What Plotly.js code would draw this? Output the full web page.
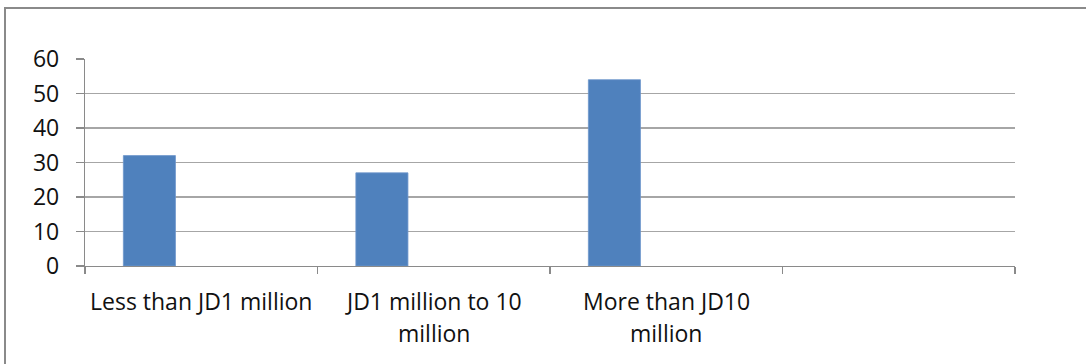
<!DOCTYPE html>
<html>
<head>
<meta charset="utf-8">
<script src="https://cdn.plot.ly/plotly-3.0.1.min.js"></script>
<style>
  html, body { margin: 0; padding: 0; width: 1086px; height: 364px; overflow: hidden; background: #fff; }
  #frame { position: absolute; left: 4px; top: 7px; width: 1100px; height: 400px; border: 2px solid #8a8a8a; box-sizing: border-box; }
  #chart { position: absolute; left: 0; top: 0; width: 1086px; height: 364px; }
</style>
</head>
<body>
<div id="frame"></div>
<div id="chart"></div>
<script>
// Categories (4th slot is empty in the original chart)
const categories = ["Less than JD1 million", "JD1 million to 10 million", "More than JD10 million", ""];
const values = [32, 27, 54, null];
// Wrapped label lines as shown on the chart
const labelLines = [
  ["Less than JD1 million"],
  ["JD1 million to 10", "million"],
  ["More than JD10", "million"]
];
const yTicks = [0, 10, 20, 30, 40, 50, 60];

const FONT = "'Open Sans', Lato, sans-serif";
const GRAY = "#8a8a8a";

const annotations = [];
labelLines.forEach((lines, i) => {
  lines.forEach((line, j) => {
    annotations.push({
      x: categories[i], xref: "x",
      y: 0, yref: "paper",
      yanchor: "middle", xanchor: "center",
      yshift: -35 - j * 32,
      text: line, showarrow: false,
      font: { family: FONT, size: 23, color: "#111" }
    });
  });
});

const trace = {
  type: "bar",
  x: categories,
  y: values,
  width: 0.224,
  offset: -0.335,
  marker: { color: "#4F81BD", line: { color: "#6f97cc", width: 0.8 } },
  hoverinfo: "x+y"
};

const layout = {
  width: 1086, height: 364,
  margin: { l: 85, r: 71, t: 59, b: 98 },
  paper_bgcolor: "rgba(0,0,0,0)",
  plot_bgcolor: "rgba(0,0,0,0)",
  showlegend: false,
  xaxis: {
    type: "category",
    categoryorder: "array",
    categoryarray: categories,
    range: [-0.5, 3.5],
    showticklabels: false,
    tickson: "boundaries",
    ticks: "outside", ticklen: 7, tickcolor: GRAY, tickwidth: 1.2,
    showline: true, linecolor: GRAY, linewidth: 1.2,
    showgrid: false, zeroline: false
  },
  yaxis: {
    range: [0, 60],
    tickvals: yTicks,
    ticks: "outside", ticklen: 8, tickcolor: GRAY, tickwidth: 1.2,
    showline: true, linecolor: GRAY, linewidth: 1.2,
    showgrid: true, gridcolor: "#a6a6a6", gridwidth: 1.2,
    zeroline: false,
    ticklabelstandoff: 12,
    tickfont: { family: FONT, size: 23, color: "#111" }
  },
  annotations: annotations
};

Plotly.newPlot("chart", [trace], layout, { displayModeBar: false, staticPlot: true });
</script>
</body>
</html>
